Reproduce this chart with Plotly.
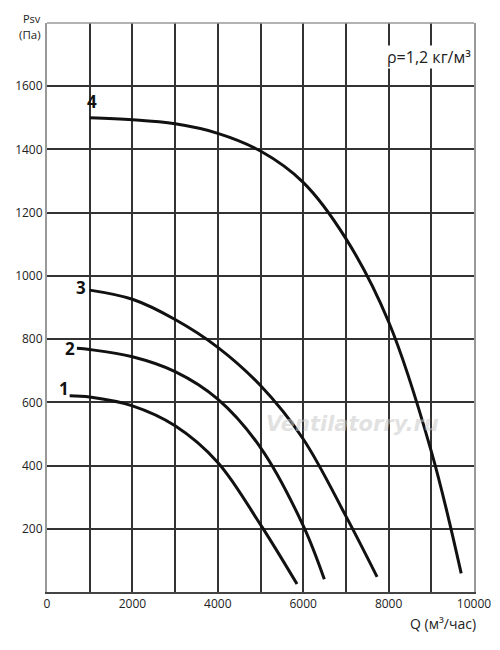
import plotly.graph_objects as go

# Data
q1 = [530, 1000, 2000, 3000, 4000, 5000, 5855]
p1 = [621, 617, 589, 526, 410, 213, 25]
q2 = [700, 1000, 2000, 3000, 4000, 5000, 6000, 6495]
p2 = [771, 767, 744, 697, 610, 457, 210, 40]
q3 = [1000, 2000, 3000, 4000, 5000, 6000, 7000, 7730]
p3 = [955, 926, 862, 774, 653, 484, 240, 48]
q4 = [1000, 2000, 3000, 4000, 5000, 6000, 7000, 8000, 9000, 9700]
p4 = [1500, 1494, 1481, 1451, 1395, 1296, 1118, 855, 445, 59]

curve_names = ["1", "2", "3", "4"]
label_q = [400, 530, 800, 1060]
label_p = [645, 771, 963, 1551]

x_tickvals = list(range(0, 10001, 1000))
x_ticktext = [str(v) if v % 2000 == 0 else "" for v in x_tickvals]
y_tickvals = list(range(0, 1801, 200))
y_ticktext = [str(v) if 0 < v < 1800 else "" for v in y_tickvals]

font_family = "Open Sans"

fig = go.Figure()
for qx, py in [(q1, p1), (q2, p2), (q3, p3), (q4, p4)]:
    fig.add_trace(go.Scatter(x=qx, y=py, mode="lines",
                             line=dict(color="#111111", width=3, shape="spline", smoothing=1.0),
                             showlegend=False, hoverinfo="skip"))

for name, lx, ly in zip(curve_names, label_q, label_p):
    fig.add_annotation(x=lx, y=ly, text=f"<b>{name}</b>", showarrow=False,
                       font=dict(family=font_family, size=17, color="#111111"),
                       xanchor="center", yanchor="middle")

# watermark
fig.add_annotation(x=7150, y=530, text="<b><i>Ventilatorry.ru</i></b>", showarrow=False,
                   font=dict(family="DejaVu Sans", size=21, color="rgba(200,200,200,0.55)"),
                   xanchor="center", yanchor="middle")

# density note
fig.add_annotation(x=0.995, y=0.94, xref="paper", yref="paper", xanchor="right", yanchor="middle",
                   text="ρ=1,2 кг/м³", showarrow=False, bgcolor="white", borderpad=0,
                   font=dict(family=font_family, size=16, color="#222222"))

# axis titles
fig.add_annotation(x=-0.01, y=1.008, xref="paper", yref="paper", xanchor="right", yanchor="middle",
                   text="Psv", showarrow=False,
                   font=dict(family=font_family, size=11, color="#222222"))
fig.add_annotation(x=-0.01, y=0.979, xref="paper", yref="paper", xanchor="right", yanchor="middle",
                   text="(Па)", showarrow=False,
                   font=dict(family=font_family, size=11.5, color="#222222"))
fig.add_annotation(x=1.01, y=0, xref="paper", yref="paper", xanchor="right", yanchor="top",
                   yshift=-20, text="Q (м³/час)", showarrow=False,
                   font=dict(family=font_family, size=14, color="#222222"))

# top border
fig.add_shape(type="line", xref="paper", yref="paper", x0=0, x1=1, y0=1, y1=1,
              line=dict(color="#999999", width=1.5))

fig.update_xaxes(range=[0, 10000], tickvals=x_tickvals, ticktext=x_ticktext,
                 showgrid=True, gridcolor="#333333", gridwidth=1.5,
                 showline=True, linecolor="#444444", linewidth=2,
                 ticks="", zeroline=False, automargin=False,
                 tickfont=dict(family=font_family, size=12, color="#222222"))
fig.update_yaxes(range=[0, 1800], tickvals=y_tickvals, ticktext=y_ticktext,
                 showgrid=True, gridcolor="#333333", gridwidth=1.5,
                 showline=True, linecolor="#999999", linewidth=2, mirror=True,
                 ticks="", zeroline=False, automargin=False,
                 tickfont=dict(family=font_family, size=12, color="#222222"))

# page body has an 8px offset; margins compensate so the plot area lands where the reference has it
fig.update_layout(width=500, height=650, plot_bgcolor="white", paper_bgcolor="white",
                  margin=dict(l=39, r=34, t=15, b=66))

fig.write_html("out.html")
